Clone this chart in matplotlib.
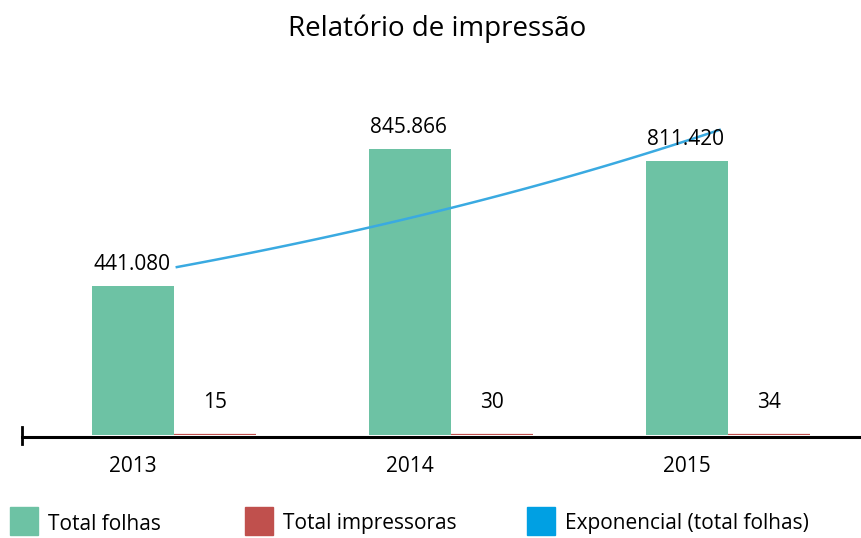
import numpy as np
import matplotlib
matplotlib.use("Agg")
import matplotlib.pyplot as plt
from matplotlib.patches import Rectangle

plt.rcParams['font.family'] = ['Open Sans', 'DejaVu Sans']

anos = ['2013', '2014', '2015']
total_folhas = [441080, 845866, 811420]
total_impressoras = [15, 30, 34]
rotulos_folhas = ['441.080', '845.866', '811.420']
rotulos_impressoras = ['15', '30', '34']

verde = '#6dc2a4'
vermelho = '#c0504d'
azul_linha = '#3aaae1'
azul_legenda = '#00a0e3'

fig = plt.figure(figsize=(8.62, 5.38), dpi=100)
ax = fig.add_axes([22 / 862, 103 / 538, 840 / 862, 375 / 538])

x = np.arange(len(anos))
w = 0.296
ax.bar(x - w / 2, total_folhas, w, color=verde, zorder=2)
ax.bar(x + w / 2, total_impressoras, w, color=vermelho, edgecolor=vermelho,
       linewidth=1.6, zorder=2)

# linha de tendencia exponencial ajustada aos totais de folhas
b, a = np.polyfit(x, np.log(total_folhas), 1)
xt = np.linspace(0.01, 1.97, 60)
ax.plot(xt, np.exp(a + b * xt), color=azul_linha, lw=1.8, zorder=3)

for i in range(len(anos)):
    ax.annotate(rotulos_folhas[i], (x[i] - w / 2, total_folhas[i]), xytext=(-1, 8),
                textcoords='offset points', ha='center', va='bottom', fontsize=15)
    ax.annotate(rotulos_impressoras[i], (x[i] + w / 2, total_impressoras[i]), xytext=(0, 16),
                textcoords='offset points', ha='center', va='bottom', fontsize=15)

ax.set_xlim(-0.549, 2.484)
ax.set_ylim(0, 1.109e6)
ax.set_yticks([])
for s in ['top', 'right', 'left']:
    ax.spines[s].set_visible(False)
ax.spines['bottom'].set_position(('outward', 1.2))
ax.spines['bottom'].set_linewidth(2.2)
ax.set_xticks(x - w / 2)
ax.set_xticklabels(anos)
ax.tick_params(axis='x', length=0, pad=14, labelsize=15)
ax.plot([0, 0], [-0.025, 0.022], transform=ax.transAxes, color='black', lw=2,
        clip_on=False)

fig.text(437 / 862, 1 - 29 / 538, 'Relatório de impressão', ha='center', va='center',
         fontsize=20)

itens = [('Total folhas', verde, 10), ('Total impressoras', vermelho, 245),
         ('Exponencial (total folhas)', azul_legenda, 527)]
for nome, cor, px in itens:
    fig.add_artist(Rectangle((px / 862, 1 - 535 / 538), 28 / 862, 28 / 538,
                             transform=fig.transFigure, color=cor))
    fig.text((px + 38) / 862, 1 - 524 / 538, nome, ha='left', va='center', fontsize=15)

fig.savefig('out.png', dpi=100)
